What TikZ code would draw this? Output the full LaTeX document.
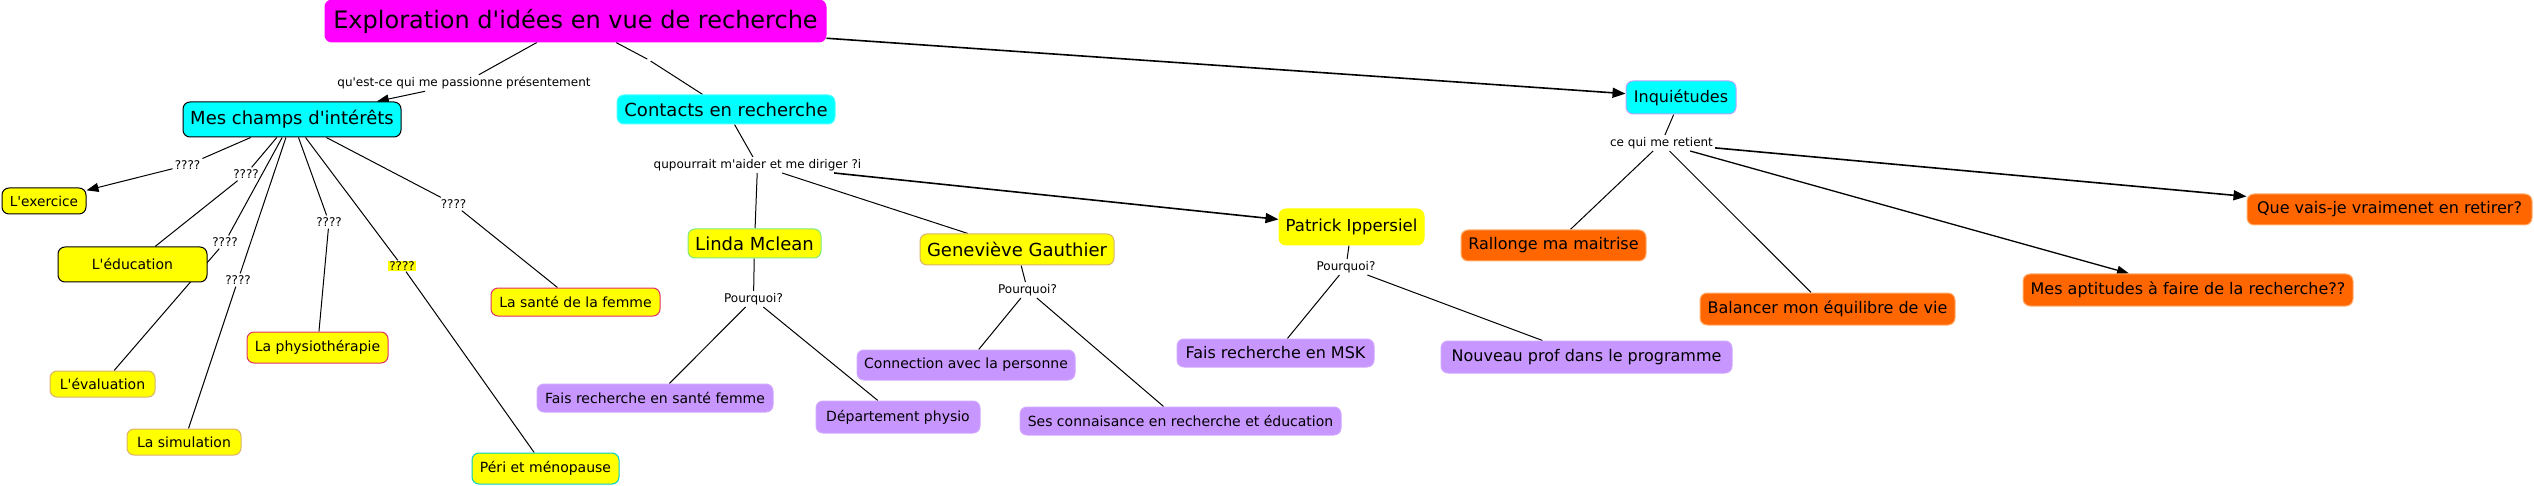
\documentclass[tikz,border=0pt]{standalone}
\usepackage{fontspec}
\setmainfont{DejaVu Sans}[Ligatures=TeXOff]
\usetikzlibrary{arrows.meta,backgrounds}
\definecolor{cmyel}{HTML}{FFFF00}
\definecolor{cmcyan}{HTML}{00FFFF}
\definecolor{cmmag}{HTML}{FF00FF}
\definecolor{cmpurp}{HTML}{C896FF}
\definecolor{cmorange}{HTML}{FF6600}
\definecolor{cmtan}{HTML}{D9B36B}
\definecolor{cmred}{HTML}{E0306A}
\definecolor{cmgreen}{HTML}{7FE87F}
\definecolor{cmlav}{HTML}{B9A3FF}
\definecolor{cmlorange}{HTML}{FFB070}
\tikzset{
  cbox/.style={rounded corners=7pt, line width=1pt, inner sep=0pt, align=center, text=black},
  fs/.style={font=\fontsize{#1}{#1}\selectfont},
  yel/.style={cbox, fill=cmyel},
  pur/.style={cbox, fill=cmpurp, draw=cmpurp!85!white, fs=14},
  ora/.style={cbox, fill=cmorange, draw=cmlorange, fs=16},
  lab/.style={inner sep=2pt, fs=12, text=black},
  conn/.style={line width=1pt, draw=black},
  arr/.style={conn, -{Triangle[length=12pt,width=9pt]}},
  tarr/.style={line width=1.6pt, draw=black, -{Triangle[length=13pt,width=10pt]}},
}
\begin{document}
\begin{tikzpicture}[x=1pt,y=-1pt]
\useasboundingbox (0,0) rectangle (2534,486);
% main concepts
\node[cbox, fill=cmmag, draw=cmmag, fs=24, minimum width=501pt, minimum height=42pt] (root) at (575.5,21) {Exploration d'idées en vue de recherche};
\node[cbox, fill=cmcyan, draw=black, fs=18, minimum width=218pt, minimum height=35pt] (champs) at (292,119.5) {Mes champs d'intérêts};
\node[cbox, fill=cmcyan, draw=cmcyan!70!white, fs=18, minimum width=218pt, minimum height=29pt] (contacts) at (726,109.5) {Contacts en recherche};
\node[cbox, fill=cmcyan, draw=cmlav, fs=16, minimum width=110pt, minimum height=33pt] (inq) at (1681,97.5) {Inquiétudes};
% interests
\node[yel, draw=black, fs=13.7, minimum width=84pt, minimum height=26pt] (exercice) at (44,201) {L'exercice};
\node[yel, draw=black, fs=14, minimum width=149pt, minimum height=35pt] (education) at (132.5,264.5) {L'éducation};
\node[yel, draw=cmtan, fs=14, minimum width=105pt, minimum height=26pt] (evaluation) at (102.5,384) {L'évaluation};
\node[yel, draw=cmtan, fs=14, minimum width=114pt, minimum height=26pt] (simulation) at (184,442) {La simulation};
\node[yel, draw=cmred, fs=14, minimum width=141pt, minimum height=31pt] (physio) at (317.5,347.5) {La physiothérapie};
\node[yel, draw=cmred, fs=14, minimum width=169pt, minimum height=28pt] (sante) at (575.5,302) {La santé de la femme};
\node[yel, draw=cmcyan!80!black, fs=14, minimum width=147pt, minimum height=31pt] (peri) at (545.5,468.5) {Péri et ménopause};
% contacts
\node[yel, draw=cmgreen, fs=18, minimum width=133pt, minimum height=29pt] (linda) at (754.5,243.5) {Linda Mclean};
\node[yel, draw=cmtan, fs=18, minimum width=194pt, minimum height=31pt] (genev) at (1017,249.5) {Geneviève Gauthier};
\node[yel, draw=cmyel, fs=16.5, minimum width=145pt, minimum height=36pt] (patrick) at (1351.5,227) {Patrick Ippersiel};
\node[pur, minimum width=236pt, minimum height=28pt] (frsf) at (655,398) {Fais recherche en santé femme};
\node[pur, minimum width=164pt, minimum height=32pt] (dept) at (898,417) {Département physio};
\node[pur, minimum width=218pt, minimum height=30pt] (connect) at (966,365) {Connection avec la personne};
\node[pur, minimum width=321pt, minimum height=28pt] (ses) at (1180.5,421) {Ses connaisance en recherche et éducation};
\node[pur, fs=16, minimum width=197pt, minimum height=28pt] (msk) at (1275.5,353) {Fais recherche en MSK};
\node[pur, fs=16, minimum width=291pt, minimum height=32pt] (nouveau) at (1586.5,357) {Nouveau prof dans le programme};
% worries
\node[ora, minimum width=185pt, minimum height=31pt] (rallonge) at (1553.5,245.5) {Rallonge ma maitrise};
\node[ora, minimum width=255pt, minimum height=32pt] (balancer) at (1827.5,309) {Balancer mon équilibre de vie};
\node[ora, minimum width=330pt, minimum height=32pt] (aptitudes) at (2188,290) {Mes aptitudes à faire de la recherche??};
\node[ora, minimum width=285pt, minimum height=31pt] (quevais) at (2389.5,209.5) {Que vais-je vraimenet en retirer?};
% linking phrases
\node[lab] (lq) at (464,83) {qu'est-ce qui me passionne présentement};
\node[inner sep=1.5pt] (lk0) at (649,60) {};
\node[lab] (lqp) at (757.5,165) {qupourrait m'aider et me diriger ?i};
\node[lab] (lce) at (1661.5,143) {ce qui me retient};
\node[lab] (q1) at (187.5,165) {????};
\node[lab] (q2) at (246,174) {????};
\node[lab] (q3) at (225,242) {????};
\node[lab] (q4) at (238,280) {????};
\node[lab] (q5) at (329,222) {????};
\node[lab, fill=cmyel, inner sep=1pt] (q6) at (402,266) {????};
\node[lab] (q7) at (453.5,204) {????};
\node[lab] (pl) at (753.5,299) {Pourquoi?};
\node[lab] (pg) at (1027.5,290) {Pourquoi?};
\node[lab] (pp) at (1346,267) {Pourquoi?};
% connectors
\begin{pgfonlayer}{background}
\draw[conn] (root) -- (lq);
\draw[arr] (lq) -- (champs);
\draw[conn] (root) -- (lk0);
\draw[conn] (lk0) -- (contacts);
\draw[tarr] (root) -- (inq);
\draw[conn] (champs) -- (q1);
\draw[arr] (q1) -- (exercice);
\draw[conn] (champs) -- (q2);
\draw[conn] (q2) -- (education);
\draw[conn] (champs) -- (q3);
\draw[conn] (q3) -- (evaluation);
\draw[conn] (champs) -- (q4);
\draw[conn] (q4) -- (simulation);
\draw[conn] (champs) -- (q5);
\draw[conn] (q5) -- (physio);
\draw[conn] (champs) -- (q6);
\draw[conn] (q6) -- (peri);
\draw[conn] (champs) -- (q7);
\draw[conn] (q7) -- (sante);
\draw[conn] (contacts) -- (lqp);
\draw[conn] (lqp) -- (linda);
\draw[conn] (lqp) -- (genev);
\draw[tarr] (lqp) -- (patrick);
\draw[conn] (linda) -- (pl);
\draw[conn] (pl) -- (frsf);
\draw[conn] (pl) -- (dept);
\draw[conn] (genev) -- (pg);
\draw[conn] (pg) -- (connect);
\draw[conn] (pg) -- (ses);
\draw[conn] (patrick) -- (pp);
\draw[conn] (pp) -- (msk);
\draw[conn] (pp) -- (nouveau);
\draw[conn] (inq) -- (lce);
\draw[conn] (lce) -- (rallonge);
\draw[conn] (lce) -- (balancer);
\draw[arr, line width=1.3pt] (lce) -- (aptitudes);
\draw[tarr] (lce) -- (quevais);
\end{pgfonlayer}
\end{tikzpicture}
\end{document}
